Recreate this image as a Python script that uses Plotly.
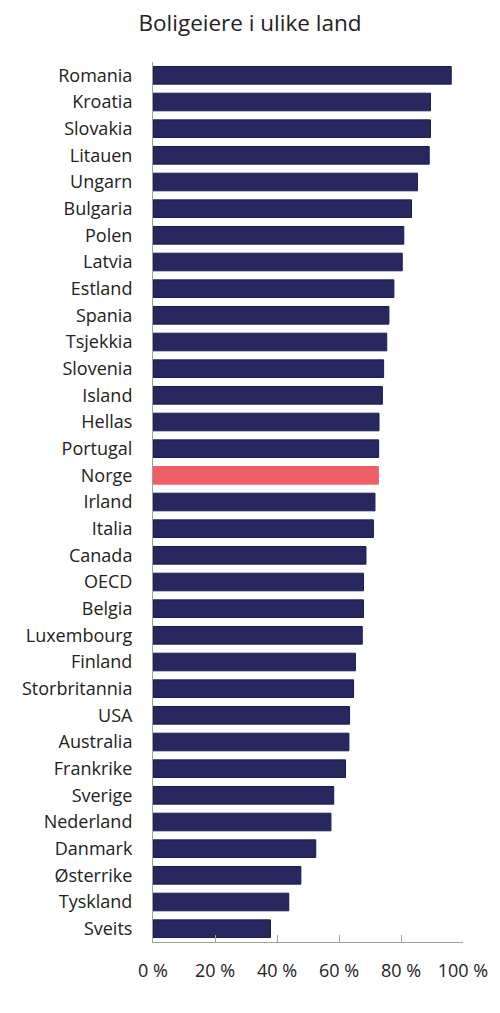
import plotly.graph_objects as go

# Andel boligeiere (%), sortert høyest til lavest
countries = [
    "Romania", "Kroatia", "Slovakia", "Litauen", "Ungarn", "Bulgaria", "Polen",
    "Latvia", "Estland", "Spania", "Tsjekkia", "Slovenia", "Island", "Hellas",
    "Portugal", "Norge", "Irland", "Italia", "Canada", "OECD", "Belgia",
    "Luxembourg", "Finland", "Storbritannia", "USA", "Australia", "Frankrike",
    "Sverige", "Nederland", "Danmark", "Østerrike", "Tyskland", "Sveits",
]
share = [
    96.2, 89.5, 89.5, 89.1, 85.3, 83.4, 80.9,
    80.4, 77.7, 76.1, 75.4, 74.4, 74.0, 72.9,
    72.8, 72.7, 71.6, 71.1, 68.7, 67.9, 67.9,
    67.5, 65.3, 64.7, 63.4, 63.2, 62.1,
    58.3, 57.4, 52.5, 47.7, 43.8, 37.9,
]
tick_vals = [0, 20, 40, 60, 80, 100]
tick_text = ["0 %", "20 %", "40 %", "60 %", "80 %", "100 %"]

navy = "#27285f"
red = "#f05f66"
colors = [red if c == "Norge" else navy for c in countries]
lines = [red if c == "Norge" else "#1b1b4f" for c in countries]

fig = go.Figure(go.Bar(
    x=share, y=countries, orientation="h",
    marker=dict(color=colors, line=dict(color=lines, width=1)),
    hoverinfo="x+y",
))

# siden har 8px body-marg, så figuren gjøres 8px mindre og flyttes tilsvarende
W, H = 492, 1005
fig.update_layout(
    width=W, height=H,
    margin=dict(l=144.5, r=37.3, t=53.7, b=70.7, autoexpand=False),
    paper_bgcolor="white", plot_bgcolor="white",
    font=dict(family="Open Sans", size=18, color="#222222"),
    title=dict(text="Boligeiere i ulike land", x=(250 - 8) / W, xanchor="center",
               y=1 - 15 / H, yanchor="middle", font=dict(size=22.5)),
    bargap=0.34,
    showlegend=False,
)
fig.update_xaxes(
    range=[0, 100], tickvals=tick_vals, ticktext=tick_text,
    showgrid=False, zeroline=False, showline=True, linecolor="#a0a0a0", linewidth=1,
    ticks="inside", ticklen=7, tickcolor="#a0a0a0", tickwidth=1,
    tickfont=dict(size=18), ticklabelstandoff=12,
)
fig.update_yaxes(
    autorange="reversed", showgrid=False, showline=True,
    linecolor="#a0a0a0", linewidth=1, ticks="", ticklabelstandoff=16,
)

fig.write_html("out.html")
